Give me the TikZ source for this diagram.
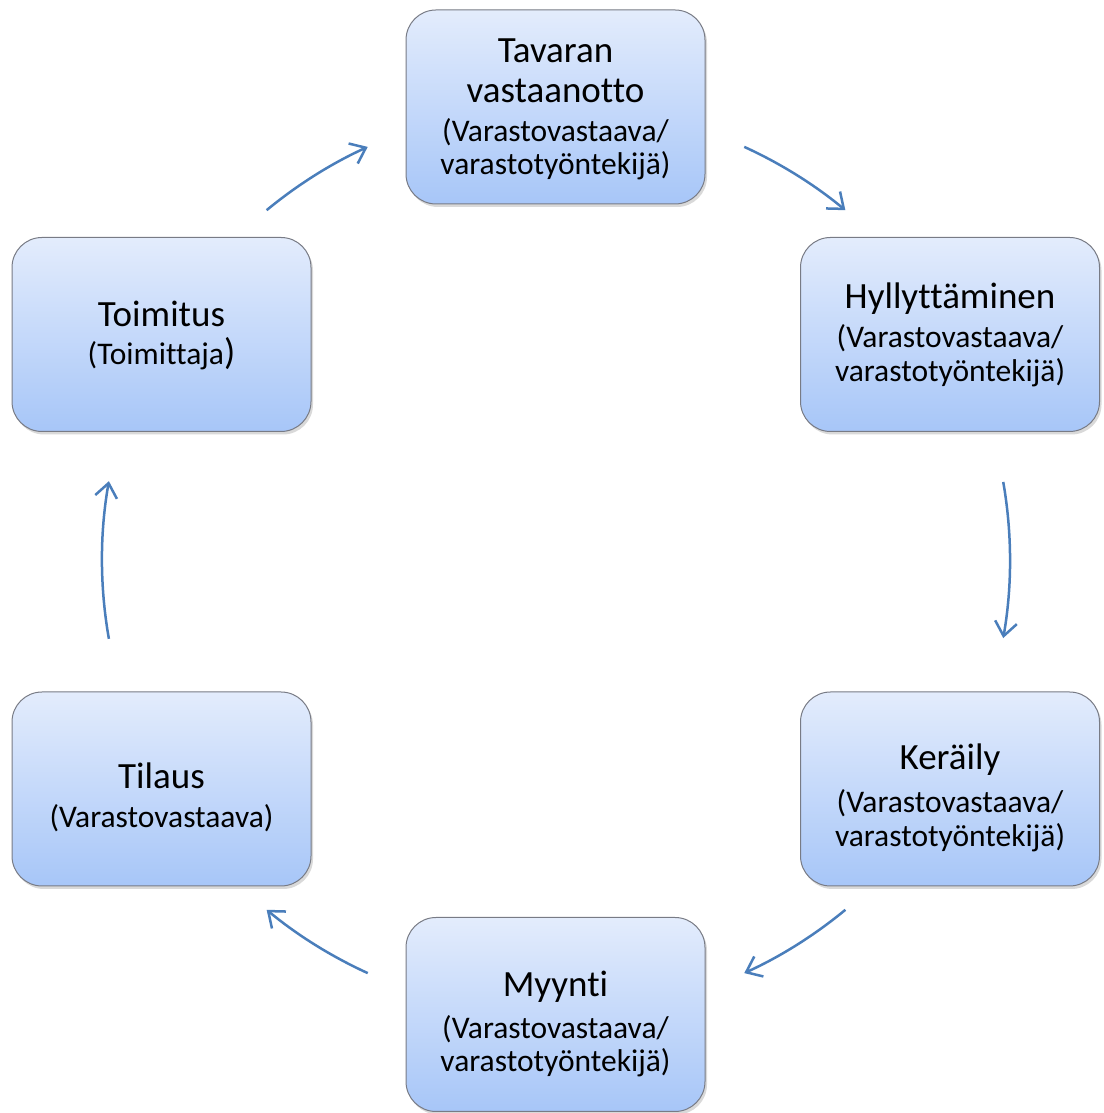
\documentclass[tikz,border=0pt]{standalone}
\usepackage{fontspec}
\setmainfont{Carlito}[Ligatures={NoCommon}]
\usetikzlibrary{arrows.meta,shadows,calc}
\definecolor{boxtop}{RGB}{227,236,252}
\definecolor{boxbot}{RGB}{167,198,248}
\definecolor{boxedge}{RGB}{120,123,133}
\definecolor{arrc}{RGB}{74,126,187}
\newcommand{\bigt}{\fontsize{37}{0}\selectfont}
\newcommand{\smt}{\fontsize{31.5}{0}\selectfont\lineskiplimit=-1000pt\lineskip=0pt\relax}
\newcommand{\fst}{\rule{0pt}{30pt}}
\begin{document}
\begin{tikzpicture}[x=1pt,y=1pt,
  stage/.style={draw=boxedge, line width=1pt, rounded corners=30pt,
    minimum width=299pt, minimum height=194pt,
    top color=boxtop, bottom color=boxbot,
    drop shadow={opacity=0.25, shadow xshift=2pt, shadow yshift=-3pt, fill=black!60},
    inner sep=0pt},
  txt/.style={align=center, font=\smt, inner sep=0pt, anchor=north},
  flow/.style={draw=arrc, line width=2.5pt, -{Straight Barb[length=14pt,width=22pt]}}]
\useasboundingbox (0,0) rectangle (1103,1113);

\node[stage] (tav) at (555.5,1006) {};
\node[stage] (hyl) at (950,778.5) {};
\node[stage] (ker) at (950,324) {};
\node[stage] (myy) at (555.5,98.5) {};
\node[stage] (til) at (161.5,324) {};
\node[stage] (toi) at (161.5,778.5) {};

\node[txt] (tavt) at (555.5,1080.3) {\fst{\bigt Tavaran}\\[40pt]{\bigt vastaanotto}\\[39pt](Varastovastaava/\\[32.6pt]varastotyöntekijä)};
\node[txt] (hylt) at (950,834.2) {\fst{\bigt Hyllyttäminen}\\[38.7pt](Varastovastaava/\\[34pt]varastotyöntekijä)};
\node[txt] (kert) at (950,373.3) {\fst{\bigt Keräily}\\[43pt](Varastovastaava/\\[33.3pt]varastotyöntekijä)};
\node[txt] (myyt) at (555.5,146.5) {\fst{\bigt Myynti}\\[41.7pt](Varastovastaava/\\[33.3pt]varastotyöntekijä)};
\node[txt] (tilt) at (161.5,355) {\fst{\bigt Tilaus}\\[39pt](Varastovastaava)};
\node[txt] (toit) at (161.5,817) {\fst{\bigt Toimitus}\\[38.5pt](Toimittaja{\bigt )}};

\coordinate (o) at (556,553);
\coordinate (a1) at ($(o)+(129.6:454)$);
\coordinate (a2) at ($(o)+(65.5:454)$);
\coordinate (a3) at ($(o)+(9.9:454)$);
\coordinate (a4) at ($(o)+(-50.4:454)$);
\coordinate (a5) at ($(o)+(-114.5:454)$);
\coordinate (a6) at ($(o)+(190:454)$);

\draw[flow] (a1) arc[start angle=129.6, end angle=114.5, radius=454];
\draw[flow] (a2) arc[start angle=65.5, end angle=50.4, radius=454];
\draw[flow] (a3) arc[start angle=9.9, end angle=-9.9, radius=454];
\draw[flow] (a4) arc[start angle=-50.4, end angle=-65.5, radius=454];
\draw[flow] (a5) arc[start angle=-114.5, end angle=-129.6, radius=454];
\draw[flow] (a6) arc[start angle=190, end angle=170, radius=454];
\end{tikzpicture}
\end{document}
